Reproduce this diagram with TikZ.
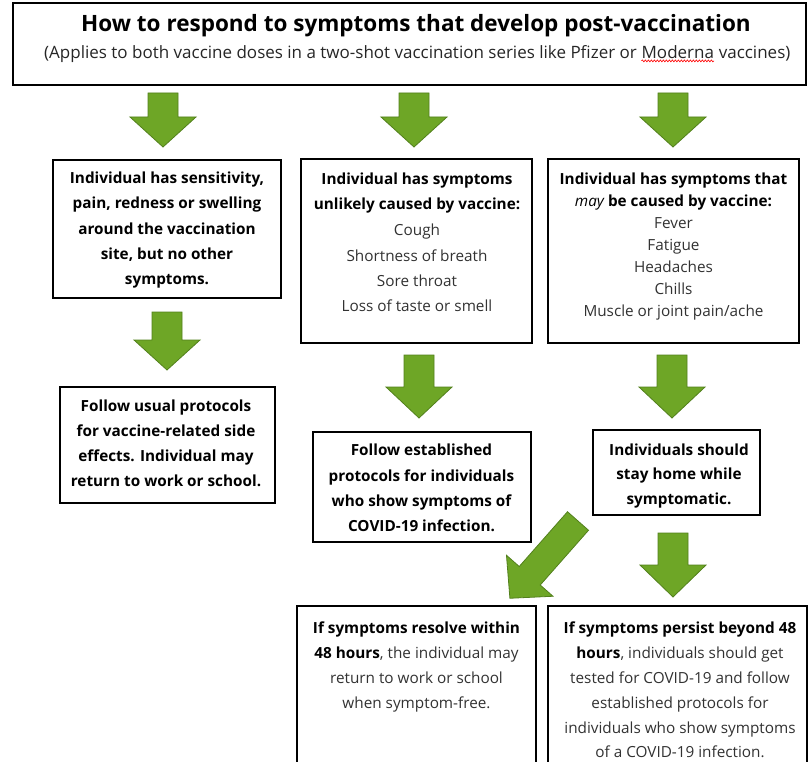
\documentclass[tikz,border=0pt]{standalone}
\usepackage{fontspec}
\setmainfont{Open Sans}
\usetikzlibrary{decorations.pathmorphing}
\definecolor{arrowfill}{RGB}{110,166,38}
\definecolor{arrowline}{RGB}{82,128,28}
\definecolor{bodygray}{RGB}{50,50,50}
\newcommand\greendown[4]{% cx, top, head start, tip
  \path[garrow] (#1-15,#2) -- (#1+15,#2) -- (#1+15,#3) -- (#1+33,#3) -- (#1,#4) -- (#1-33,#3) -- (#1-15,#3) -- cycle;}
\begin{document}
\begin{tikzpicture}[x=1pt,y=-1pt,
  box/.style={draw=black, line width=1.1pt, rectangle, inner sep=0pt},
  ln/.style={anchor=base, inner sep=0pt, font=\fontsize{15.3}{18}\selectfont, text=bodygray},
  bln/.style={anchor=base, inner sep=0pt, font=\fontsize{15.3}{18}\selectfont\bfseries, text=black},
  subln/.style={anchor=base west, inner sep=0pt, font=\fontsize{17}{20}\selectfont, text=black!85},
  garrow/.style={fill=arrowfill, draw=arrowline, line width=0.8pt, line join=miter}]
\useasboundingbox (0,0) rectangle (811,762);
\clip (0,0) rectangle (811,762);
\fill[white] (0,0) rectangle (811,762);

% title
\node[box, minimum width=793pt, minimum height=82pt] (title) at (409.5,44) {};
\node[anchor=base, inner sep=0pt, font=\fontsize{22.5}{26}\selectfont\bfseries] (ttl) at (416,32) {How to respond to symptoms that develop post-vaccination};
\node[subln] (s1) at (44,59) {(Applies to both vaccine doses in a two-shot vaccination series like Pfizer or};
\node[subln] (s2) at ([xshift=4.4pt]s1.base east) {Moderna};
\node[subln] (s3) at ([xshift=4.4pt]s2.base east) {vaccines)};
\draw[red, line width=0.6pt, decorate, decoration={snake, amplitude=1pt, segment length=3pt}] ([yshift=-1.5pt]s2.south west) -- ([yshift=-1.5pt]s2.south east);

% boxes
\node[box, minimum width=228pt, minimum height=138pt] (A) at (167,229) {};
\node[box, minimum width=231pt, minimum height=184pt] (B) at (416.5,251) {};
\node[box, minimum width=251pt, minimum height=184pt] (C) at (673.5,251) {};
\node[box, minimum width=215pt, minimum height=116pt] (D) at (167.5,445) {};
\node[box, minimum width=218pt, minimum height=110pt] (E) at (422,487) {};
\node[box, minimum width=167pt, minimum height=85pt] (F) at (676.5,472.5) {};
\node[box, minimum width=239pt, minimum height=174pt] (G) at (416.5,693) {};
\node[box, minimum width=259pt, minimum height=174pt] (H) at (677.5,693) {};

% box texts
\foreach \y/\t [count=\i] in {184/{Individual has sensitivity,}, 209/{pain, redness or swelling}, 234/{around the vaccination}, 259/{site, but no other}, 284/{symptoms.}}
  \node[bln] (A\i) at (167,\y) {\t};

\foreach \y/\t [count=\i] in {185/{\bfseries\color{black}Individual has symptoms}, 210/{\bfseries\color{black}unlikely caused by vaccine:}, 236/{Cough}, 261/{Shortness of breath}, 286/{Sore throat}, 311/{Loss of taste or smell}}
  \node[ln] (B\i) at (417,\y) {\t};

\foreach \y/\t [count=\i] in {185/{\bfseries\color{black}Individual has symptoms that}, 207/{{\color{black}\normalfont\itshape may} \bfseries\color{black}be caused by vaccine:}, 229/{Fever}, 251/{Fatigue}, 272.5/{Headaches}, 294/{Chills}, 316/{Muscle or joint pain/ache}}
  \node[ln] (C\i) at (673.5,\y) {\t};

\foreach \y/\t [count=\i] in {411/{Follow usual protocols}, 436/{for vaccine-related side}, 461/{effects. Individual may}, 486/{return to work or school.}}
  \node[bln] (D\i) at (166,\y) {\t};

\foreach \y/\t [count=\i] in {455/{Follow established}, 481/{protocols for individuals}, 506/{who show symptoms of}, 531/{COVID-19 infection.}}
  \node[bln] (E\i) at (421.5,\y) {\t};

\foreach \y/\t [count=\i] in {455/{Individuals should}, 479/{stay home while}, 504/{symptomatic.}}
  \node[bln] (F\i) at (679,\y) {\t};

\foreach \y/\t [count=\i] in {633/{\bfseries\color{black}If symptoms resolve within}, 658/{{\bfseries\color{black}48 hours}, the individual may}, 683/{return to work or school}, 708/{when symptom-free.}}
  \node[ln] (G\i) at (416.5,\y) {\t};

\foreach \y/\t [count=\i] in {633/{\bfseries\color{black}If symptoms persist beyond 48}, 658/{{\bfseries\color{black}hours}, individuals should get}, 683/{tested for COVID-19 and follow}, 708/{established protocols for}, 733/{individuals who show symptoms}, 757/{of a COVID-19 infection.}}
  \node[ln] (H\i) at (680,\y) {\t};

% green block arrows
\greendown{163}{93}{117}{147}
\greendown{414}{93}{117}{147}
\greendown{673}{93}{117}{147}
\greendown{167}{312}{340}{370}
\greendown{419}{355}{387}{418}
\greendown{672}{355}{387}{418}
\greendown{673}{533}{565}{597}
\begin{scope}[shift={(578,521)}, rotate=228.6]
  \path[garrow] (0,-14) -- (73,-14) -- (73,-31) -- (103,0) -- (73,31) -- (73,14) -- (0,14) -- cycle;
\end{scope}
\end{tikzpicture}
\end{document}
